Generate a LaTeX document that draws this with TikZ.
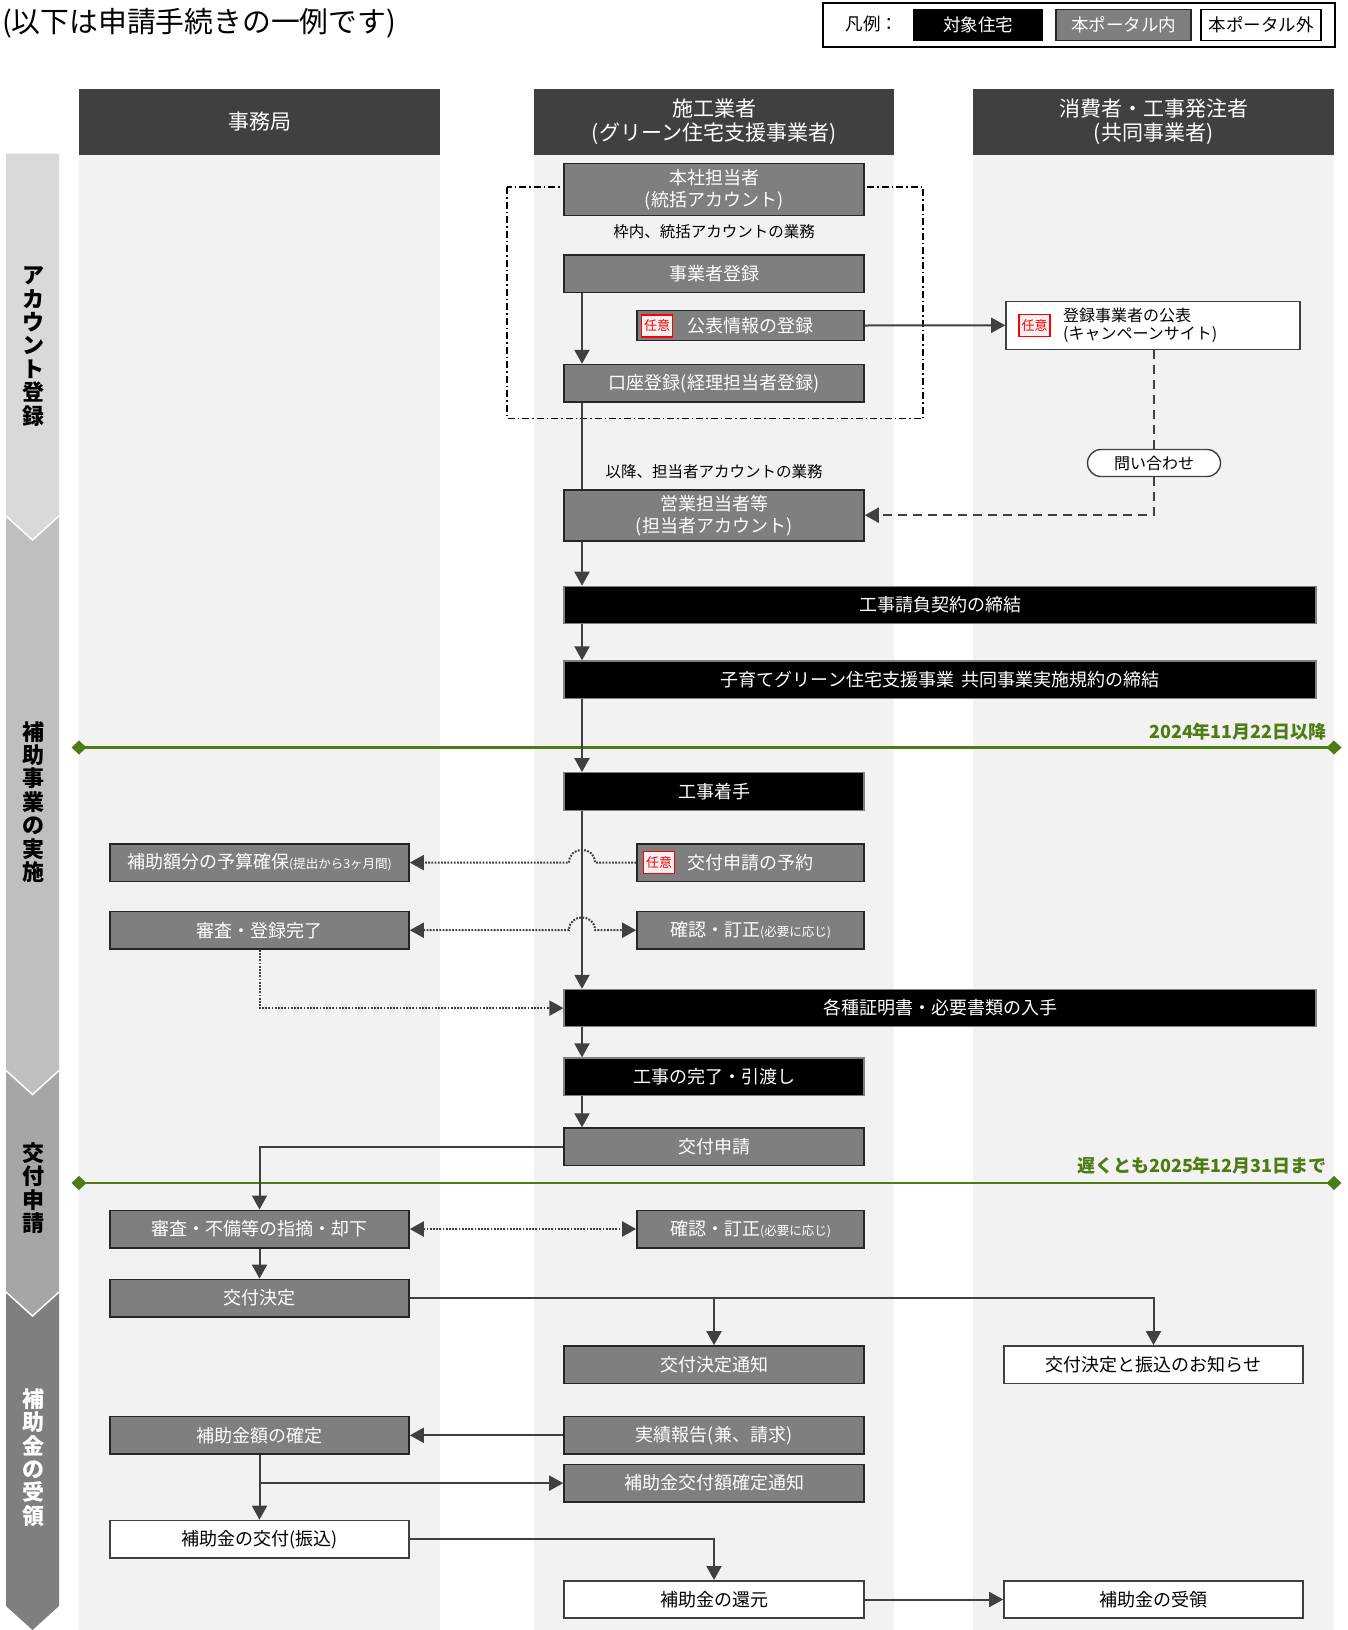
\documentclass[tikz,border=0pt]{standalone}
\usepackage{fontspec}
\setmainfont{Noto Sans CJK JP}
\usetikzlibrary{arrows.meta}

\definecolor{hdr}{HTML}{404040}
\definecolor{lanebg}{HTML}{F2F2F2}
\definecolor{portal}{HTML}{7F7F7F}
\definecolor{edge}{HTML}{404040}
\definecolor{deadline}{HTML}{4F7B13}
\definecolor{phA}{HTML}{D9D9D9}
\definecolor{phB}{HTML}{BFBFBF}
\definecolor{phC}{HTML}{A6A6A6}
\definecolor{phD}{HTML}{7F7F7F}

\newcommand{\fsz}[2]{\fontsize{#1pt}{#2pt}\selectfont}

\tikzset{
  tri/.tip={Triangle[length=14pt,width=15pt]},
  lanehead/.style={fill=hdr, text=white, minimum height=66pt, inner sep=0pt,
    align=center, font=\fsz{21}{24}},
  box/.style={minimum height=37.4pt, inner sep=0pt, align=center, font=\fsz{18}{22}},
  gbox/.style={box, fill=portal, draw=black!85, line width=1.6pt, text=white},
  kbox/.style={box, fill=black, draw=portal, line width=1.2pt, text=white},
  wbox/.style={box, fill=white, draw=edge, line width=1.6pt, text=black},
  badge/.style={draw=red, fill=lanebg, line width=1.2pt, text=red, font=\fsz{13}{15},
    minimum width=31pt, minimum height=22pt, inner sep=0pt},
  note/.style={font=\fsz{15.5}{18}, text=black, inner sep=0pt},
  pill/.style={draw=edge, fill=white, line width=1.4pt, rounded corners=13.5pt,
    minimum width=133pt, minimum height=27pt, inner sep=0pt, font=\fsz{16}{18}},
  phaselabel/.style={align=center, inner sep=0pt, font=\bfseries\fsz{22}{23.4}},
  datelabel/.style={text=deadline, font=\bfseries\fsz{18}{20}, inner sep=0pt, anchor=east},
  flow/.style={draw=edge, line width=2pt, -tri},
  plain/.style={draw=edge, line width=2pt},
  dotline/.style={draw=edge, line width=2pt, dash pattern=on 1.8pt off 1.4pt},
  dashline/.style={draw=edge, line width=2.2pt, dash pattern=on 9pt off 6pt},
  frameline/.style={draw=black, line width=1.1pt, dash pattern=on 7pt off 3pt on 1.5pt off 3pt}
}

\begin{document}
\begin{tikzpicture}[x=1pt,y=-1pt]
\useasboundingbox (0,0) rectangle (1348,1630);
\fill[white] (0,0) rectangle (1348,1630);

% ---------- title and legend ----------
\node[anchor=west, inner sep=0pt, font=\fsz{28.8}{31}] (title) at (2,23) {(以下は申請手続きの一例です)};
\node[draw=black, line width=1.3pt, minimum width=512pt, minimum height=44pt, inner sep=0pt] (legend) at (1079,25) {};
\node[inner sep=0pt, font=\fsz{17.5}{20}] (legendlbl) at (872,24) {凡例：};
\node[fill=black, draw=black, text=white, minimum width=129pt, minimum height=31pt, inner sep=0pt, font=\fsz{17.5}{20}] (legA) at (978,25) {対象住宅};
\node[fill=portal, draw=black!85, line width=1.2pt, text=white, minimum width=135pt, minimum height=31pt, inner sep=0pt, font=\fsz{17.5}{20}] (legB) at (1123.5,25) {本ポータル内};
\node[fill=white, draw=black, line width=1.2pt, text=black, minimum width=120pt, minimum height=31pt, inner sep=0pt, font=\fsz{17.5}{20}] (legC) at (1261,25) {本ポータル外};

% ---------- swimlanes ----------
\fill[lanebg] (79,155) rectangle (440,1630);
\fill[lanebg] (534,155) rectangle (894,1630);
\fill[lanebg] (973,155) rectangle (1334,1630);
\node[lanehead, minimum width=361pt] (laneA) at (259.5,122) {事務局};
\node[lanehead, minimum width=360pt] (laneB) at (714,122) {施工業者\\(グリーン住宅支援事業者)};
\node[lanehead, minimum width=361pt] (laneC) at (1153.5,122) {消費者・工事発注者\\(共同事業者)};

% ---------- phase chevrons ----------
\fill[phD] (6,1292) -- (59,1292) -- (59,1606) -- (32.5,1630) -- (6,1606) -- cycle;
\fill[phC] (6,1070.5) -- (59,1070.5) -- (59,1292) -- (32.5,1316) -- (6,1292) -- cycle;
\fill[phB] (6,516) -- (59,516) -- (59,1070.5) -- (32.5,1094.5) -- (6,1070.5) -- cycle;
\fill[phA] (6,153.5) -- (59,153.5) -- (59,516) -- (32.5,540) -- (6,516) -- cycle;
\draw[white, line width=1.5pt] (6,516) -- (32.5,540) -- (59,516);
\draw[white, line width=1.5pt] (6,1070.5) -- (32.5,1094.5) -- (59,1070.5);
\draw[white, line width=1.5pt] (6,1292) -- (32.5,1316) -- (59,1292);
\node[phaselabel] (phase1) at (34,346.5) {ア\\カ\\ウ\\ン\\ト\\登\\録};
\node[phaselabel] (phase2) at (34,802) {補\\助\\事\\業\\の\\実\\施};
\node[phaselabel] (phase3) at (34,1188) {交\\付\\申\\請};
\node[phaselabel, text=white] (phase4) at (34,1457.5) {補\\助\\金\\の\\受\\領};

% ---------- head-office frame ----------
\draw[frameline] (507,187) rectangle (923,418.5);

% ---------- deadlines ----------
\draw[deadline, line width=2.5pt] (79,747.5) -- (1334,747.5);
\fill[deadline] (79,740.5) -- (86.5,747.5) -- (79,754.5) -- (71.5,747.5) -- cycle;
\fill[deadline] (1334,740.5) -- (1341.5,747.5) -- (1334,754.5) -- (1326.5,747.5) -- cycle;
\node[datelabel] (date1) at (1327,732) {2024年11月22日以降};
\draw[deadline, line width=2.5pt] (79,1183) -- (1334,1183);
\fill[deadline] (79,1176) -- (86.5,1183) -- (79,1190) -- (71.5,1183) -- cycle;
\fill[deadline] (1334,1176) -- (1341.5,1183) -- (1334,1190) -- (1326.5,1183) -- cycle;
\node[datelabel] (date2) at (1327,1166) {遅くとも2025年12月31日まで};

% ---------- account registration ----------
\node[gbox, minimum width=300pt, minimum height=52pt] (honsha) at (714,189.5) {本社担当者\\(統括アカウント)};
\node[note] (waku) at (714,232) {枠内、統括アカウントの業務};
\node[gbox, minimum width=300pt] (jigyo) at (714,273.8) {事業者登録};
\node[gbox, minimum width=227pt, minimum height=30pt] (kohyo) at (750.5,325.5) {公表情報の登録};
\node[badge] (nin1) at (657,326) {任意};
\node[gbox, minimum width=300pt] (koza) at (714,383.3) {口座登録(経理担当者登録)};
\node[note] (ikou) at (714,471.5) {以降、担当者アカウントの業務};
\node[gbox, minimum width=300pt, minimum height=51pt] (eigyo) at (714,515.2) {営業担当者等\\(担当者アカウント)};

\node[wbox, minimum width=294pt, minimum height=48pt] (kohyo3) at (1153,325.3) {};
\node[badge] (nin2) at (1034.5,325.5) {任意};
\node[anchor=west, align=left, inner sep=0pt, font=\fsz{16}{18.2}] (kohyo3txt) at (1063,325.5) {登録事業者の公表\\(キャンペーンサイト)};
\node[pill] (toiawase) at (1154,463) {問い合わせ};

% ---------- project execution ----------
\node[kbox, minimum width=752pt] (keiyaku) at (940,605) {工事請負契約の締結};
\node[kbox, minimum width=752pt] (kiyaku) at (940,679.7) {子育てグリーン住宅支援事業\hspace{7pt}共同事業実施規約の締結};
\node[kbox, minimum width=300pt] (chakushu) at (714,791.4) {工事着手};
\node[gbox, minimum width=299pt] (yosan) at (259.5,862.6) {補助額分の予算確保{\fsz{12.5}{14}(提出から3ヶ月間)}};
\node[gbox, minimum width=227pt] (yoyaku) at (750.5,862.6) {交付申請の予約};
\node[badge] (nin3) at (659,862.6) {任意};
\node[gbox, minimum width=299pt] (shinsa1) at (259.5,930.2) {審査・登録完了};
\node[gbox, minimum width=227pt] (kakunin1) at (750.5,930.2) {確認・訂正{\fsz{12.5}{14}(必要に応じ)}};
\node[kbox, minimum width=752pt] (shomei) at (940,1008.1) {各種証明書・必要書類の入手};
\node[kbox, minimum width=300pt] (kanryo) at (714,1076.7) {工事の完了・引渡し};

% ---------- grant application ----------
\node[gbox, minimum width=300pt] (shinsei) at (714,1146.8) {交付申請};
\node[gbox, minimum width=299pt] (shinsa2) at (259.5,1229) {審査・不備等の指摘・却下};
\node[gbox, minimum width=227pt] (kakunin2) at (750.5,1229) {確認・訂正{\fsz{12.5}{14}(必要に応じ)}};
\node[gbox, minimum width=299pt] (kettei) at (259.5,1298.1) {交付決定};

% ---------- receipt of subsidy ----------
\node[gbox, minimum width=300pt] (tsuchi) at (714,1364.6) {交付決定通知};
\node[wbox, minimum width=299pt] (oshirase) at (1153.5,1364.6) {交付決定と振込のお知らせ};
\node[gbox, minimum width=299pt] (kakutei) at (259.5,1435.3) {補助金額の確定};
\node[gbox, minimum width=300pt] (jisseki) at (714,1435.3) {実績報告(兼、請求)};
\node[gbox, minimum width=300pt] (kakuteitsuchi) at (714,1483.1) {補助金交付額確定通知};
\node[wbox, minimum width=299pt] (kofu) at (259.5,1539.2) {補助金の交付(振込)};
\node[wbox, minimum width=300pt] (kangen) at (714,1599.5) {補助金の還元};
\node[wbox, minimum width=299pt] (juryo) at (1153.5,1599.5) {補助金の受領};

% ---------- connectors ----------
\coordinate (vx) at (582,0);
\draw[flow] (jigyo.south -| vx) -- (koza.north -| vx);
\draw[plain] (koza.south -| vx) -- (eigyo.north -| vx);
\draw[flow] (eigyo.south -| vx) -- (keiyaku.north -| vx);
\draw[flow] (keiyaku.south -| vx) -- (kiyaku.north -| vx);
\draw[flow] (kiyaku.south -| vx) -- (chakushu.north -| vx);
\draw[flow] (chakushu.south -| vx) -- (shomei.north -| vx);
\draw[flow] (shomei.south -| vx) -- (kanryo.north -| vx);
\draw[flow] (kanryo.south -| vx) -- (shinsei.north -| vx);

\draw[flow] (kohyo.east) -- (kohyo3.west);
\draw[dashline] (toiawase.north |- kohyo3.south) -- (toiawase.north);
\draw[dashline, -tri] (toiawase.south) |- (eigyo.east);

\draw[dotline, -tri] (yoyaku.west) -- ([xshift=13pt]vx |- yoyaku.west)
  .. controls +(0,-17) and +(0,-17) .. ([xshift=-13pt]vx |- yoyaku.west) -- (yosan.east);
\draw[dotline, tri-tri] (shinsa1.east) -- ([xshift=-13pt]vx |- shinsa1.east)
  .. controls +(0,-17) and +(0,-17) .. ([xshift=13pt]vx |- shinsa1.east) -- (kakunin1.west);
\draw[dotline, -tri] (shinsa1.south) |- (shomei.west);

\draw[flow] (shinsei.west) -| (shinsa2.north);
\draw[dotline, tri-tri] (shinsa2.east) -- (kakunin2.west);
\draw[flow] (shinsa2.south) -- (kettei.north);
\draw[flow] (kettei.east) -| (tsuchi.north);
\draw[flow] (kettei.east) -| (oshirase.north);
\draw[flow] (jisseki.west) -- (kakutei.east);
\draw[flow] (kakutei.south) -- (kofu.north);
\draw[flow] (kakutei.south |- kakuteitsuchi.west) -- (kakuteitsuchi.west);
\draw[flow] (kofu.east) -| (kangen.north);
\draw[flow] (kangen.east) -- (juryo.west);
\end{tikzpicture}
\end{document}
